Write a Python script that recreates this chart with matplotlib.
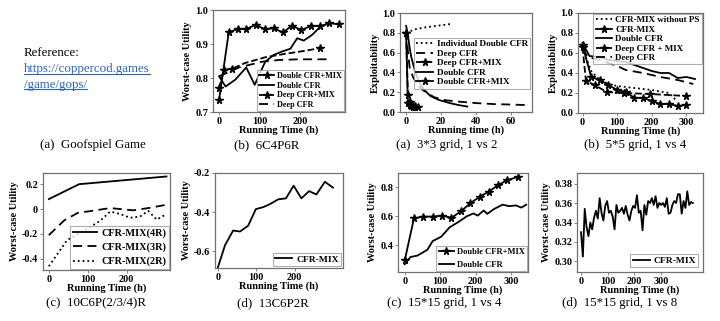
import matplotlib
matplotlib.use("Agg")
import matplotlib.pyplot as plt
from matplotlib.lines import Line2D
import numpy as np

plt.rcParams['font.family'] = ['Liberation Serif', 'DejaVu Serif']
plt.rcParams['font.weight'] = 'bold'
plt.rcParams['axes.labelweight'] = 'bold'

# ---------------- data ----------------
# (b) 6C4P6R
b1_dmix_x = [0, 24, 47, 67, 90, 113, 135, 158, 180, 203, 227, 250, 272, 296]
b1_dmix_y = [0.736, 0.935, 0.944, 0.944, 0.956, 0.944, 0.946, 0.934, 0.954, 0.941, 0.953, 0.953, 0.961, 0.958]
b1_dcfr_x = [0, 16, 40, 67, 88, 114, 135, 156, 176, 193, 209, 230, 250, 262]
b1_dcfr_y = [0.805, 0.775, 0.795, 0.831, 0.78, 0.848, 0.868, 0.878, 0.886, 0.917, 0.91, 0.927, 0.951, 0.956]
b1_deepmix_x = [0, 12, 32, 64, 114, 163, 212, 250]
b1_deepmix_y = [0.77, 0.824, 0.827, 0.844, 0.861, 0.871, 0.88, 0.888]
b1_deep_x = [0, 49, 107, 148, 197, 267]
b1_deep_y = [0.805, 0.831, 0.848, 0.853, 0.855, 0.855]

# (a) 3*3 grid, 1 vs 2
a2_ind_x = [0, 5, 10, 15, 20, 26]
a2_ind_y = [0.80, 0.835, 0.852, 0.865, 0.876, 0.89]
a2_deep_x = [0, 1, 2, 4, 6, 9, 12, 16, 22, 30, 40, 50, 60, 70]
a2_deep_y = [0.82, 0.62, 0.45, 0.35, 0.29, 0.23, 0.19, 0.15, 0.12, 0.105, 0.09, 0.08, 0.075, 0.07]
a2_deepmix_x = [0, 1, 2, 3, 5, 7]
a2_deepmix_y = [0.80, 0.17, 0.10, 0.08, 0.065, 0.05]
a2_dcfr_x = [0, 1, 2, 3, 5, 7, 10, 14, 19, 25, 30, 35]
a2_dcfr_y = [0.87, 0.78, 0.65, 0.55, 0.42, 0.32, 0.23, 0.16, 0.12, 0.09, 0.07, 0.055]
a2_dmix_x = [0, 1, 2, 3, 4, 5]
a2_dmix_y = [0.80, 0.09, 0.07, 0.065, 0.055, 0.05]

# (b) 5*5 grid, 1 vs 4
b3_nops_x = [0, 25, 50, 75, 100, 150, 200, 250, 270]
b3_nops_y = [0.65, 0.42, 0.33, 0.29, 0.27, 0.25, 0.23, 0.2, 0.13]
b3_mix_x = [0, 25, 50, 75, 100, 125, 150, 175, 200, 225, 250, 275, 300]
b3_mix_y = [0.68, 0.36, 0.33, 0.28, 0.23, 0.21, 0.15, 0.15, 0.12, 0.09, 0.09, 0.07, 0.08]
b3_dcfr_x = [0, 20, 50, 75, 100, 125, 150, 175, 200, 225, 250, 275, 300, 325]
b3_dcfr_y = [0.70, 0.57, 0.56, 0.53, 0.52, 0.51, 0.48, 0.45, 0.42, 0.40, 0.40, 0.35, 0.36, 0.34]
b3_deepmix_x = [0, 10, 35, 70, 120, 195, 300]
b3_deepmix_y = [0.66, 0.32, 0.28, 0.21, 0.20, 0.19, 0.17]
b3_deep_x = [0, 15, 50, 100, 125, 175, 225, 275, 320]
b3_deep_y = [0.65, 0.56, 0.53, 0.47, 0.43, 0.40, 0.36, 0.33, 0.29]

# (c) 10C6P(2/3/4)R
c1_4r_x = [0, 78, 303]
c1_4r_y = [0.08, 0.2, 0.262]
c1_3r_x = [0, 40, 75, 110, 158, 200, 218, 260, 303]
c1_3r_y = [-0.21, -0.09, -0.03, -0.015, 0.008, -0.005, -0.01, 0.01, 0.035]
c1_2r_x = [0, 47, 98, 132, 158, 184, 209, 235, 256, 278, 303]
c1_2r_y = [-0.46, -0.25, -0.16, -0.095, -0.02, -0.04, -0.07, -0.06, -0.015, -0.085, -0.04]

# (d) 13C6P2R
d1_x = [0, 19, 40, 58, 79, 99, 118, 135, 157, 177, 197, 217, 237, 256, 278, 299]
d1_y = [-0.687, -0.57, -0.495, -0.50, -0.47, -0.385, -0.375, -0.36, -0.335, -0.33, -0.265, -0.33,
        -0.293, -0.31, -0.245, -0.275]

# (c) 15*15 grid, 1 vs 4
c2_mix_x = [0, 26, 52, 79, 106, 132, 159, 185, 212, 237, 264, 290, 319]
c2_mix_y = [0.297, 0.586, 0.598, 0.598, 0.605, 0.59, 0.635, 0.69, 0.735, 0.77, 0.815, 0.85, 0.87]
c2_dcfr_x = [0, 16, 36, 64, 79, 103, 127, 151, 175, 194, 206, 223, 233, 252, 276, 295, 314, 329, 343]
c2_dcfr_y = [0.27, 0.32, 0.33, 0.37, 0.43, 0.46, 0.525, 0.56, 0.60, 0.62, 0.605, 0.64, 0.617, 0.65,
             0.68, 0.67, 0.675, 0.66, 0.68]

# (d) 15*15 grid, 1 vs 8
d2_y = [0.330, 0.305, 0.354, 0.335, 0.326, 0.340, 0.333, 0.345, 0.352, 0.344, 0.365, 0.350, 0.342,
        0.357, 0.362,
        0.350, 0.352, 0.346, 0.333, 0.358, 0.350, 0.352, 0.355, 0.349, 0.357, 0.348, 0.342, 0.352,
        0.357,
        0.355, 0.368, 0.350, 0.352, 0.332, 0.358, 0.348, 0.362, 0.360, 0.365, 0.358, 0.367, 0.355,
        0.360,
        0.358, 0.360, 0.356, 0.365, 0.349, 0.350, 0.358, 0.362, 0.360, 0.369, 0.369, 0.349, 0.362,
        0.355, 0.372, 0.358, 0.361, 0.360]
d2_x = list(range(0, 7 * len(d2_y), 7))

captions = ["(a)  Goofspiel Game", "(b)  6C4P6R", "(a)  3*3 grid, 1 vs 2", "(b)  5*5 grid, 1 vs 4",
            "(c)  10C6P(2/3/4)R", "(d)  13C6P2R", "(c)  15*15 grid, 1 vs 4", "(d)  15*15 grid, 1 vs 8"]

# ---------------- figure ----------------
W, H = 720, 321
fig = plt.figure(figsize=(W / 100, H / 100), dpi=100)
fig.patch.set_facecolor('white')

TF = 7.4   # tick font
LF = 7.5   # label font
SP = '#707070'


def add_ax(l, r, t, b):
    ax = fig.add_axes([l / W, 1 - b / H, (r - l) / W, (b - t) / H])
    for s in ax.spines.values():
        s.set_color(SP)
        s.set_linewidth(0.9)
    ax.tick_params(length=2, width=0.6, color=SP, labelsize=TF, pad=1.5)
    return ax


def finish(ax, xl, yl):
    ax.set_xlabel(xl, fontsize=LF, fontweight='bold', labelpad=0)
    ax.set_ylabel(yl, fontsize=LF, fontweight='bold', labelpad=2)
    for lab in ax.get_xticklabels() + ax.get_yticklabels():
        lab.set_fontweight('bold')


def leg(ax, size, **kw):
    opts = dict(prop={'size': size, 'weight': 'bold'}, frameon=True, fancybox=False,
                handlelength=1.8, handletextpad=0.4, borderpad=0.25, labelspacing=0.12,
                borderaxespad=0.2)
    opts.update(kw)
    lg = ax.legend(**opts)
    lg.get_frame().set_edgecolor('#999999')
    lg.get_frame().set_linewidth(0.8)
    return lg


K = 'black'
LW = 1.3
MS = 5.5

# (b) 6C4P6R
ax = add_ax(213, 345, 10, 112)
ax.plot(b1_dmix_x, b1_dmix_y, '-', color=K, lw=LW, marker='*', ms=MS, label='Double CFR+MIX')
ax.plot(b1_dcfr_x, b1_dcfr_y, '-', color=K, lw=LW, label='Double CFR')
ax.plot(b1_deepmix_x, b1_deepmix_y, '--', color=K, lw=LW, marker='*', ms=MS, markevery=[0, 1, 2, 7],
        label='Deep CFR+MIX')
ax.plot(b1_deep_x, b1_deep_y, '--', color=K, lw=LW, dashes=(5, 3), label='Deep CFR')
ax.set_xlim(-15, 311)
ax.set_ylim(0.7, 1.0)
ax.set_xticks([0, 100, 200])
ax.set_yticks([0.7, 0.8, 0.9, 1.0])
ax.set_yticklabels(['0.7', '0.8', '0.9', '1.0'])
finish(ax, 'Running Time (h)', 'Worst-case Utility')
leg(ax, 5.9, loc='lower right', borderaxespad=0.1, labelspacing=0.2)

# (a) 3*3 grid
ax = add_ax(400, 532, 13, 112)
ax.plot(a2_ind_x, a2_ind_y, ':', color=K, lw=LW, label='Individual Double CFR')
ax.plot(a2_deep_x, a2_deep_y, '--', color=K, lw=LW, dashes=(5, 3), label='Deep CFR')
ax.plot(a2_deepmix_x, a2_deepmix_y, '--', color=K, lw=LW, marker='*', ms=MS, label='Deep CFR+MIX')
ax.plot(a2_dcfr_x, a2_dcfr_y, '-', color=K, lw=LW, label='Double CFR')
ax.plot(a2_dmix_x, a2_dmix_y, '-', color=K, lw=LW, marker='*', ms=MS, label='Double CFR+MIX')
ax.set_xlim(-3.5, 72)
ax.set_ylim(0.0, 1.0)
ax.set_xticks([0, 20, 40, 60])
ax.set_yticks([0.0, 0.2, 0.4, 0.6, 0.8, 1.0])
ax.set_yticklabels(['0.0', '0.2', '0.4', '0.6', '0.8', '1.0'])
finish(ax, 'Running time (h)', 'Exploitability')
leg(ax, 6.6, loc='upper right', bbox_to_anchor=(1.0, 0.77))

# (b) 5*5 grid
ax = add_ax(578, 703, 13, 113)
ax.plot(b3_nops_x, b3_nops_y, ':', color=K, lw=LW, label='CFR-MIX without PS')
ax.plot(b3_mix_x, b3_mix_y, '-', color=K, lw=LW, marker='*', ms=MS, label='CFR-MIX')
ax.plot(b3_dcfr_x, b3_dcfr_y, '-', color=K, lw=LW, label='Double CFR')
ax.plot(b3_deepmix_x, b3_deepmix_y, '--', color=K, lw=LW, marker='*', ms=MS, label='Deep CFR + MIX')
ax.plot(b3_deep_x, b3_deep_y, '--', color=K, lw=LW, dashes=(5, 3), label='Deep CFR')
ax.set_xlim(-13, 348)
ax.set_ylim(0.0, 1.0)
ax.set_xticks([0, 100, 200, 300])
ax.set_yticks([0.0, 0.2, 0.4, 0.6, 0.8, 1.0])
ax.set_yticklabels(['0.0', '0.2', '0.4', '0.6', '0.8', '1.0'])
finish(ax, 'Running Time (h)', 'Exploitability')
leg(ax, 6.5, loc='upper right', borderaxespad=0.1)

# (c) 10C6P(2/3/4)R
ax = add_ax(43, 170, 173, 270)
ax.plot(c1_4r_x, c1_4r_y, '-', color=K, lw=LW, label='CFR-MIX(4R)')
ax.plot(c1_3r_x, c1_3r_y, '--', color=K, lw=LW, dashes=(5, 3), label='CFR-MIX(3R)')
ax.plot(c1_2r_x, c1_2r_y, ':', color=K, lw=LW, label='CFR-MIX(2R)')
ax.set_xlim(-15, 312)
ax.set_ylim(-0.49, 0.29)
ax.set_xticks([0, 100, 200])
ax.set_yticks([-0.4, -0.2, 0.0, 0.2])
ax.set_yticklabels(['-0.4', '-0.2', '0', '0.2'])
finish(ax, 'Running Time (h)', 'Worst-case Utility')
leg(ax, 7.4, loc='lower right', borderaxespad=0.1, labelspacing=0.45, handlelength=2.4)

# (d) 13C6P2R
ax = add_ax(215, 343, 173, 268)
ax.plot(d1_x, d1_y, '-', color=K, lw=LW, label='CFR-MIX')
ax.set_xlim(-7, 325)
ax.set_ylim(-0.687, -0.2)
ax.set_xticks([0, 100, 200])
ax.set_yticks([-0.6, -0.4, -0.2])
ax.set_yticklabels(['-0.6', '-0.4', '-0.2'])
finish(ax, 'Running Time (h)', 'Worst-case Utility')
leg(ax, 6.8, loc='lower right', borderaxespad=0.2)

# (c) 15*15 grid, 1 vs 4
ax = add_ax(398, 528, 173, 272)
ax.plot(c2_mix_x, c2_mix_y, '-', color=K, lw=LW, marker='*', ms=MS, label='Double CFR+MIX')
ax.plot(c2_dcfr_x, c2_dcfr_y, '-', color=K, lw=LW, label='Double CFR')
ax.set_xlim(-19, 348)
ax.set_ylim(0.217, 0.898)
ax.set_xticks([0, 100, 200, 300])
ax.set_yticks([0.4, 0.6, 0.8])
ax.set_yticklabels(['0.4', '0.6', '0.8'])
finish(ax, 'Running Time (h)', 'Worst-case Utility')
leg(ax, 6.1, loc='lower right', borderaxespad=0.1, labelspacing=0.6)

# (d) 15*15 grid, 1 vs 8
ax = add_ax(577, 703, 173, 272)
ax.plot(d2_x, d2_y, '-', color=K, lw=LW, label='CFR-MIX')
ax.set_xlim(-15, 458)
ax.set_ylim(0.2892, 0.3908)
ax.set_xticks([0, 100, 200, 300])
ax.set_yticks([0.30, 0.32, 0.34, 0.36, 0.38])
ax.set_yticklabels(['0.30', '0.32', '0.34', '0.36', '0.38'])
finish(ax, 'Running Time (h)', 'Worst-case Utility')
leg(ax, 6.8, loc='lower right', borderaxespad=0.5)

# captions
CF = 9.3
cap_pos = [(93, 145), (267, 145), (447, 145), (635, 145),
           (96, 303), (273, 303), (444, 303), (620, 303)]
for (cx, cy), txt in zip(cap_pos, captions):
    fig.text(cx / W, 1 - cy / H, txt, ha='center', va='center', fontsize=CF, fontweight='normal')

# reference text
fig.text(24 / W, 1 - 53 / H, 'Reference:', ha='left', va='center', fontsize=CF, fontweight='normal')
link_col = '#2a64b8'
t1 = fig.text(24 / W, 1 - 69 / H, 'https://coppercod.games', ha='left', va='center', fontsize=CF,
              fontweight='normal', color=link_col)
t2 = fig.text(24 / W, 1 - 85 / H, '/game/gops/', ha='left', va='center', fontsize=CF,
              fontweight='normal', color=link_col)
fig.canvas.draw()
r = fig.canvas.get_renderer()
for t in (t1, t2):
    bb = t.get_window_extent(r)
    yline = (bb.y0 + 1.5) / H
    fig.add_artist(Line2D([bb.x0 / W, bb.x1 / W], [yline, yline], color=link_col, lw=0.8))

fig.savefig('out.png', dpi=100, facecolor='white')
